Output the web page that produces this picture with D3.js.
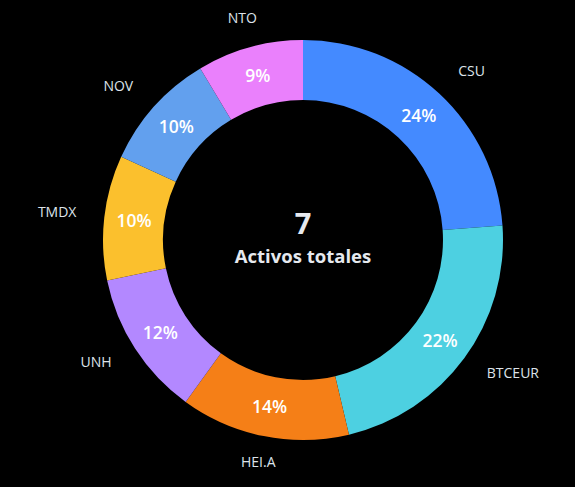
<!DOCTYPE html>
<html>
<head>
<meta charset="utf-8">
<script src="https://cdn.jsdelivr.net/npm/d3@7"></script>
<style>
  html, body { margin: 0; padding: 0; background: #000; }
  svg { display: block; }
</style>
</head>
<body>
<div id="chart"></div>
<script>
const categories = ["CSU", "BTCEUR", "HEI.A", "UNH", "TMDX", "NOV", "NTO"];
const values = [23.9, 22.5, 13.7, 11.8, 10.1, 9.6, 8.6];
const colors = ["#448AFF", "#4DD0E1", "#F57F17", "#B388FF", "#FBC02D", "#62A0EE", "#EA80FC"];
const centerValue = "7";
const centerLabel = "Activos totales";

const W = 575, H = 487;
const cx = 303, cy = 240;
const outerR = 200, innerR = 140, labelR = 228;

const svg = d3.select("#chart").append("svg")
  .attr("width", W).attr("height", H)
  .style("background", "#000");

const data = categories.map((c, i) => ({ name: c, value: values[i] }));
const total = d3.sum(values);
const color = d3.scaleOrdinal().domain(categories).range(colors);

const pie = d3.pie().value(d => d.value).sort(null);
const arcs = pie(data);
const arc = d3.arc().innerRadius(innerR).outerRadius(outerR);
const midArc = d3.arc().innerRadius((innerR + outerR) / 2).outerRadius((innerR + outerR) / 2);

const g = svg.append("g").attr("transform", `translate(${cx},${cy})`);

g.selectAll("path.slice").data(arcs).join("path")
  .attr("class", "slice")
  .attr("d", arc)
  .attr("fill", d => color(d.data.name));

g.selectAll("text.pct").data(arcs).join("text")
  .attr("class", "pct")
  .attr("transform", d => `translate(${midArc.centroid(d)})`)
  .attr("text-anchor", "middle")
  .attr("dy", "0.36em")
  .style("font-family", "'Open Sans', sans-serif")
  .style("font-weight", 600)
  .style("font-size", "17.5px")
  .style("fill", "#ffffff")
  .text(d => Math.round(d.data.value / total * 100) + "%");

g.selectAll("text.name").data(arcs).join("text")
  .attr("class", "name")
  .each(function(d) {
    const a = (d.startAngle + d.endAngle) / 2;
    const s = Math.sin(a), c = Math.cos(a);
    const anchor = s > 0.3 ? "start" : (s < -0.3 ? "end" : "middle");
    d3.select(this)
      .attr("x", labelR * s)
      .attr("y", -labelR * c - 2)
      .attr("text-anchor", anchor);
  })
  .attr("dy", "0.36em")
  .style("font-family", "'Open Sans', sans-serif")
  .style("font-size", "14px")
  .style("fill", "#dde3ea")
  .text(d => d.data.name);

g.append("text")
  .attr("x", 0).attr("y", -6)
  .attr("text-anchor", "middle")
  .style("font-family", "'Open Sans', sans-serif")
  .style("font-weight", 700)
  .style("font-size", "29px")
  .style("fill", "#e6e9ee")
  .text(centerValue);

g.append("text")
  .attr("x", 0).attr("y", 23)
  .attr("text-anchor", "middle")
  .style("font-family", "'Open Sans', sans-serif")
  .style("font-weight", 700)
  .style("font-size", "18.5px")
  .style("fill", "#e6e9ee")
  .text(centerLabel);
</script>
</body>
</html>
